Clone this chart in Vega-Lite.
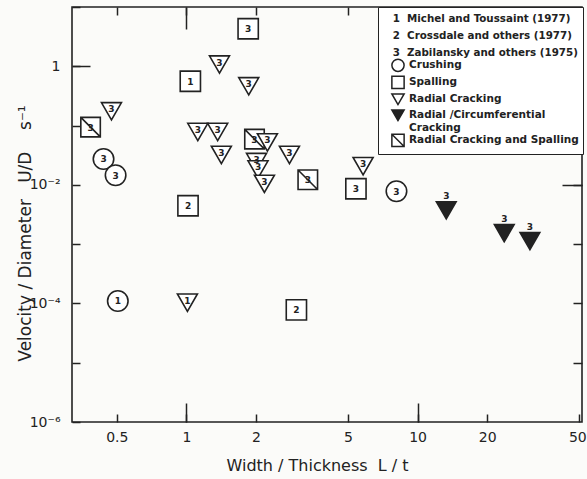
{
  "$schema": "https://vega.github.io/schema/vega-lite/v6.json",
  "width": 510,
  "height": 415,
  "autosize": "none",
  "padding": {"left": 72, "top": 7, "right": 5, "bottom": 57},
  "background": "#fbfbf9",
  "config": {
    "view": {"stroke": "#222", "strokeWidth": 1.6},
    "font": "DejaVu Sans",
    "axis": {"domain": false, "grid": false, "tickColor": "#222", "tickWidth": 1.5, "labelColor": "#222", "titleColor": "#222", "labelFontSize": 14, "titleFontSize": 16, "titleFontWeight": "normal", "labelFont": "DejaVu Sans", "titleFont": "DejaVu Sans", "labelOverlap": false, "labelFlush": false}
  },
  "data": {"values": [
    {"x": 1.85, "y": 4.3, "mode": "Spalling", "src": "3"},
    {"x": 1.39, "y": 1.07, "mode": "Radial Cracking", "src": "3"},
    {"x": 1.04, "y": 0.56, "mode": "Spalling", "src": "1"},
    {"x": 1.86, "y": 0.46, "mode": "Radial Cracking", "src": "3"},
    {"x": 0.474, "y": 0.174, "mode": "Radial Cracking", "src": "3"},
    {"x": 0.385, "y": 0.094, "mode": "Radial Cracking and Spalling", "src": "3"},
    {"x": 1.12, "y": 0.078, "mode": "Radial Cracking", "src": "3"},
    {"x": 1.365, "y": 0.078, "mode": "Radial Cracking", "src": "3"},
    {"x": 1.416, "y": 0.032, "mode": "Radial Cracking", "src": "3"},
    {"x": 1.97, "y": 0.059, "mode": "Radial Cracking and Spalling", "src": "3"},
    {"x": 2.24, "y": 0.052, "mode": "Radial Cracking", "src": "3"},
    {"x": 2.79, "y": 0.032, "mode": "Radial Cracking", "src": "3"},
    {"x": 0.438, "y": 0.0273, "mode": "Crushing", "src": "3"},
    {"x": 0.494, "y": 0.0145, "mode": "Crushing", "src": "3"},
    {"x": 2.01, "y": 0.0243, "mode": "Radial Cracking", "src": "3"},
    {"x": 2.04, "y": 0.0182, "mode": "Radial Cracking", "src": "3"},
    {"x": 2.175, "y": 0.0104, "mode": "Radial Cracking", "src": "3"},
    {"x": 1.016, "y": 0.00445, "mode": "Spalling", "src": "2"},
    {"x": 3.35, "y": 0.0122, "mode": "Radial Cracking and Spalling", "src": "3"},
    {"x": 5.81, "y": 0.0207, "mode": "Radial Cracking", "src": "3"},
    {"x": 5.41, "y": 0.0086, "mode": "Spalling", "src": "3"},
    {"x": 8.1, "y": 0.0078, "mode": "Crushing", "src": "3"},
    {"x": 13.3, "y": 0.00373, "mode": "Radial /Circumferential Cracking", "src": "3"},
    {"x": 23.7, "y": 0.00153, "mode": "Radial /Circumferential Cracking", "src": "3"},
    {"x": 30.6, "y": 0.00113, "mode": "Radial /Circumferential Cracking", "src": "3"},
    {"x": 0.505, "y": 0.00011, "mode": "Crushing", "src": "1"},
    {"x": 1.01, "y": 0.000103, "mode": "Radial Cracking", "src": "1"},
    {"x": 2.99, "y": 0.000078, "mode": "Spalling", "src": "2"}
  ]},
  "layer": [
    {
      "mark": {"type": "point", "opacity": 0},
      "encoding": {
        "x": {"field": "x", "type": "quantitative", "scale": {"type": "log", "domain": [0.32, 51.4], "nice": false}, "axis": {"orient": "top", "values": [0.5, 1, 2, 5, 10, 20], "labels": false, "title": null, "tickSize": -8}},
        "y": {"field": "y", "type": "quantitative", "scale": {"type": "log", "domain": [0.000001, 10], "nice": false}, "axis": {"orient": "right", "values": [1, 0.1, 0.01, 0.001, 0.0001, 0.00001], "labels": false, "title": null, "tickSize": -9}}
      }
    },
    {
      "mark": {"type": "point", "opacity": 0},
      "encoding": {
        "x": {"field": "x", "type": "quantitative", "axis": {"orient": "top", "values": [1, 10], "labels": false, "title": null, "tickSize": -22}},
        "y": {"field": "y", "type": "quantitative", "axis": {"orient": "right", "values": [0.01], "labels": false, "title": null, "tickSize": -20}}
      }
    },
    {
      "mark": {"type": "point", "opacity": 0},
      "encoding": {
        "x": {"field": "x", "type": "quantitative", "axis": {"orient": "bottom", "values": [1, 10], "labels": false, "title": null, "tickSize": -19}},
        "y": {"field": "y", "type": "quantitative", "axis": {"orient": "left", "values": [1], "labels": false, "title": null, "tickSize": -18}}
      }
    },
    {
      "mark": {"type": "point", "filled": true, "stroke": "#222", "strokeWidth": 1.6, "opacity": 1},
      "encoding": {
        "x": {"field": "x", "type": "quantitative", "axis": {"orient": "bottom", "values": [0.5, 1, 2, 5, 10, 20, 50], "tickSize": -8, "labelPadding": 16, "labelFlush": 5, "labelFlushOffset": 7, "labelExpr": "datum.value + ''", "title": "Width / Thickness\u00a0 L / t", "titlePadding": 13, "titleX": 245}},
        "y": {"field": "y", "type": "quantitative", "axis": {"orient": "left", "values": [10, 1, 0.1, 0.01, 0.001, 0.0001, 0.00001, 0.000001], "tickSize": -8, "labelPadding": 20, "labelExpr": "datum.value == 1 ? '1' : datum.value == 0.01 ? '10⁻²' : datum.value == 0.0001 ? '10⁻⁴' : datum.value == 0.000001 ? '10⁻⁶' : ''", "title": "Velocity / Diameter\u00a0\u00a0 U/D\u00a0\u00a0\u00a0 s⁻¹", "titleFontSize": 17, "titleX": -38, "titleY": 226}},
        "shape": {"field": "mode", "type": "nominal", "scale": {"domain": ["Crushing", "Spalling", "Radial Cracking", "Radial /Circumferential Cracking", "Radial Cracking and Spalling"], "range": ["circle", "square", "triangle-down", "triangle-down", "M-1,-1L1,-1L1,1L-1,1Z M-1,-1L1,1"]},
          "legend": {"orient": "none", "legendX": 306, "legendY": 0, "title": ["\u200b\u00a0\u00a0\u00a01\u00a0 Michel and Toussaint (1977)", "\u200b\u00a0\u00a0\u00a02\u00a0 Crossdale and others (1977)", "\u200b\u00a0\u00a0\u00a03\u00a0 Zabilansky and others (1975)"], "titleFont": "DejaVu Sans", "titleFontSize": 10.3, "titleFontWeight": "bold", "titleLineHeight": 17, "titleBaseline": "line-top", "titlePadding": 3, "titleColor": "#222", "titleLimit": 196, "labelFont": "DejaVu Sans", "labelFontSize": 10.5, "labelFontWeight": "bold", "labelColor": "#222", "labelLimit": 300, "labelExpr": "datum.label == 'Radial /Circumferential Cracking' ? ['Radial /Circumferential', 'Cracking'] : datum.label", "symbolSize": 150, "symbolStrokeWidth": 1.5, "symbolOffset": 9, "labelOffset": 4, "rowPadding": -5, "strokeColor": "#222", "fillColor": "white", "padding": 4, "encode": {"symbols": {"update": {"stroke": {"value": "#222"}, "strokeWidth": {"value": 1.5}}}, "labels": {"update": {"lineHeight": {"value": 10}}}}}},
        "fill": {"field": "mode", "type": "nominal", "scale": {"domain": ["Crushing", "Spalling", "Radial Cracking", "Radial /Circumferential Cracking", "Radial Cracking and Spalling"], "range": ["white", "white", "white", "#222", "white"]},
          "legend": {"orient": "none", "legendX": 306, "legendY": 0, "title": ["\u200b\u00a0\u00a0\u00a01\u00a0 Michel and Toussaint (1977)", "\u200b\u00a0\u00a0\u00a02\u00a0 Crossdale and others (1977)", "\u200b\u00a0\u00a0\u00a03\u00a0 Zabilansky and others (1975)"], "titleFont": "DejaVu Sans", "titleFontSize": 10.3, "titleFontWeight": "bold", "titleLineHeight": 17, "titleBaseline": "line-top", "titlePadding": 3, "titleColor": "#222", "titleLimit": 196, "labelFont": "DejaVu Sans", "labelFontSize": 10.5, "labelFontWeight": "bold", "labelColor": "#222", "labelLimit": 300, "labelExpr": "datum.label == 'Radial /Circumferential Cracking' ? ['Radial /Circumferential', 'Cracking'] : datum.label", "symbolSize": 150, "symbolStrokeWidth": 1.5, "symbolOffset": 9, "labelOffset": 4, "rowPadding": -5, "strokeColor": "#222", "fillColor": "white", "padding": 4, "encode": {"symbols": {"update": {"stroke": {"value": "#222"}, "strokeWidth": {"value": 1.5}}}, "labels": {"update": {"lineHeight": {"value": 10}}}}}},
        "size": {"field": "mode", "type": "nominal", "scale": {"domain": ["Radial Cracking and Spalling", "Radial /Circumferential Cracking", "Radial Cracking", "Spalling", "Crushing"], "range": [380, 420, 380, 380, 300]}, "legend": null}
      }
    },
    {
      "transform": [{"filter": "datum.mode == 'Crushing' || datum.mode == 'Spalling' || datum.mode == 'Radial Cracking and Spalling'"}],
      "mark": {"type": "text", "font": "DejaVu Sans", "fontWeight": "bold", "fontSize": 9, "color": "#222", "baseline": "middle", "dy": 0.5},
      "encoding": {
        "x": {"field": "x", "type": "quantitative", "axis": null},
        "y": {"field": "y", "type": "quantitative", "axis": null},
        "text": {"field": "src"}
      }
    },
    {
      "transform": [{"filter": "datum.mode == 'Radial Cracking'"}],
      "mark": {"type": "text", "font": "DejaVu Sans", "fontWeight": "bold", "fontSize": 9, "color": "#222", "baseline": "middle", "dy": -2},
      "encoding": {
        "x": {"field": "x", "type": "quantitative", "axis": null},
        "y": {"field": "y", "type": "quantitative", "axis": null},
        "text": {"field": "src"}
      }
    },
    {
      "transform": [{"filter": "datum.mode == 'Radial /Circumferential Cracking'"}],
      "mark": {"type": "text", "font": "DejaVu Sans", "fontWeight": "bold", "fontSize": 9, "color": "#222", "baseline": "middle", "dy": -14},
      "encoding": {
        "x": {"field": "x", "type": "quantitative", "axis": null},
        "y": {"field": "y", "type": "quantitative", "axis": null},
        "text": {"field": "src"}
      }
    }
  ],
  "resolve": {"axis": {"x": "independent", "y": "independent"}}
}
